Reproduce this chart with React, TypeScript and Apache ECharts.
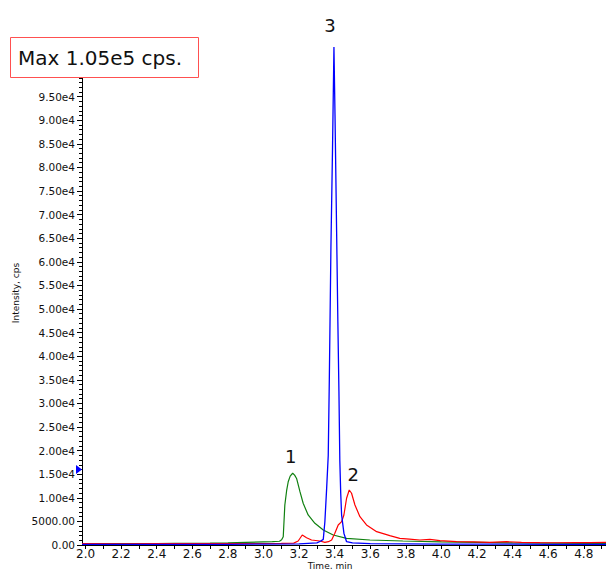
import React, { useEffect, useRef } from "react";
import * as echarts from "echarts";

// ---- data ----
const greenTimes = [1.98, 2.1, 2.2, 2.3, 2.4, 2.5, 2.6, 2.7, 2.8, 2.9, 3.0, 3.05, 3.09, 3.102, 3.111, 3.12, 3.13, 3.139, 3.15, 3.164, 3.175, 3.186, 3.205, 3.223, 3.251, 3.289, 3.336, 3.392, 3.467, 3.598, 3.783, 4.0, 4.2, 4.4, 4.6, 4.8, 4.925];
const greenValues = [250, 300, 280, 320, 300, 330, 350, 380, 450, 550, 650, 700, 800, 1100, 1760, 8480, 11500, 13400, 14600, 15200, 14800, 14100, 11300, 8840, 6360, 4600, 3180, 2120, 1420, 1060, 850, 650, 550, 450, 400, 350, 330];

const redTimes = [1.98, 2.2, 2.4, 2.6, 2.8, 3.0, 3.1, 3.17, 3.195, 3.218, 3.242, 3.27, 3.317, 3.345, 3.365, 3.383, 3.401, 3.42, 3.439, 3.452, 3.467, 3.482, 3.495, 3.514, 3.542, 3.579, 3.636, 3.71, 3.766, 3.82, 3.879, 3.935, 3.991, 4.085, 4.18, 4.272, 4.366, 4.45, 4.553, 4.65, 4.75, 4.834, 4.925];
const redValues = [300, 250, 300, 280, 300, 320, 350, 400, 850, 2120, 1550, 1060, 850, 570, 700, 1060, 2480, 4240, 4940, 6360, 9900, 11650, 10960, 8480, 6000, 4240, 2820, 2000, 1420, 1250, 1060, 1200, 910, 700, 650, 570, 700, 550, 500, 480, 520, 500, 550];

const blueTimes = [1.98, 2.2, 2.4, 2.6, 2.8, 3.0, 3.2, 3.25, 3.3, 3.32, 3.336, 3.345, 3.355, 3.364, 3.37, 3.379, 3.388, 3.396, 3.402, 3.411, 3.418, 3.424, 3.429, 3.434, 3.439, 3.452, 3.467, 3.5, 3.6, 3.8, 4.0, 4.2, 4.4, 4.6, 4.8, 4.925];
const blueValues = [150, 120, 150, 130, 150, 180, 250, 350, 450, 800, 1200, 4940, 12000, 19000, 35000, 63000, 84000, 105500, 91000, 66400, 47300, 32600, 17900, 11000, 6400, 2500, 700, 450, 300, 250, 200, 180, 170, 150, 150, 140];

const xLabelValues = [2.0, 2.2, 2.4, 2.6, 2.8, 3.0, 3.2, 3.4, 3.6, 3.8, 4.0, 4.2, 4.4, 4.6, 4.8];
const xTickValues = [2.0, 2.1, 2.2, 2.3, 2.4, 2.5, 2.6, 2.7, 2.8, 2.9, 3.0, 3.1, 3.2, 3.3, 3.4, 3.5, 3.6, 3.7, 3.8, 3.9, 4.0, 4.1, 4.2, 4.3, 4.4, 4.5, 4.6, 4.7, 4.8, 4.9];

const peakLabels = ["1", "2", "3"];
const peakTimes = [3.164, 3.482, 3.396];
const peakValues = [15200, 11650, 105500];
const markerValue = 16000;

const FONT = "DejaVu Sans";

const zip = (t: number[], v: number[]) => t.map((x, i) => [x, v[i]]);

const peakMark = (i: number, dx: number, dist: number) => ({
  coord: [peakTimes[i], peakValues[i]],
  symbol: "circle",
  symbolSize: 1,
  itemStyle: { color: "rgba(0,0,0,0)" },
  label: {
    show: true,
    formatter: peakLabels[i],
    position: "top",
    distance: dist,
    offset: [dx, 0],
    fontSize: 18,
    fontFamily: FONT,
    color: "#111",
  },
});

export default function App() {
  const ref = useRef<HTMLDivElement>(null);
  useEffect(() => {
    if (!ref.current) return;
    const chart = echarts.init(ref.current, undefined, { renderer: "svg" });
    const yFmt = (v: number) => {
      if (v > 95000) return "";
      if (v === 0) return "0.00";
      if (v < 10000) return v.toFixed(2);
      return (v / 10000).toFixed(2) + "e4";
    };
    chart.setOption({
      animation: false,
      grid: { left: 82, top: 40, right: 0, bottom: 24 },
      xAxis: {
        type: "value",
        min: 1.98,
        max: 4.925,
        axisLine: { show: true, lineStyle: { color: "#000", width: 1 } },
        axisTick: { show: true, customValues: xTickValues, length: 4, lineStyle: { color: "#000" } },
        axisLabel: {
          customValues: xLabelValues,
          formatter: (v: number) => v.toFixed(1),
          fontFamily: FONT,
          fontSize: 12,
          color: "#111",
          margin: 3,
        },
        splitLine: { show: false },
      },
      yAxis: {
        type: "value",
        min: 0,
        max: 107000,
        interval: 5000,
        axisLine: { show: true, lineStyle: { color: "#000", width: 1 } },
        axisTick: { show: true, length: 5, lineStyle: { color: "#000" } },
        minorTick: { show: true, splitNumber: 5, length: 3, lineStyle: { color: "#000" } },
        axisLabel: { formatter: yFmt, fontFamily: FONT, fontSize: 10.5, color: "#111", margin: 7 },
        splitLine: { show: false },
      },
      series: [
        {
          type: "line",
          data: zip(greenTimes, greenValues),
          showSymbol: false,
          symbol: "none",
          lineStyle: { color: "#108010", width: 1.2 },
          itemStyle: { color: "#108010" },
          markPoint: { data: [peakMark(0, -2, 7)] },
        },
        {
          type: "line",
          data: zip(redTimes, redValues),
          showSymbol: false,
          symbol: "none",
          lineStyle: { color: "#ff0000", width: 1.2 },
          itemStyle: { color: "#ff0000" },
          markPoint: { data: [peakMark(1, 4, 6)] },
        },
        {
          type: "line",
          data: zip(blueTimes, blueValues),
          showSymbol: false,
          symbol: "none",
          lineStyle: { color: "#0000ff", width: 1.3 },
          itemStyle: { color: "#0000ff" },
          markPoint: {
            data: [
              peakMark(2, -4, 12),
              {
                coord: [1.98, markerValue],
                symbol: "triangle",
                symbolSize: [9, 6],
                symbolRotate: -90,
                symbolOffset: [-3, 0],
                itemStyle: { color: "#0000ff" },
                label: { show: false },
              },
            ],
          },
        },
      ],
      graphic: [
        {
          type: "rect",
          z: 100,
          zlevel: 1,
          shape: { x: 10.5, y: 37.5, width: 188, height: 40 },
          style: { fill: "#fff", stroke: "#ff5050", lineWidth: 1 },
        },
        {
          type: "text",
          z: 101,
          zlevel: 1,
          x: 18,
          y: 58,
          style: {
            text: "Max 1.05e5 cps.",
            fontSize: 20,
            fontFamily: FONT,
            fill: "#111",
            verticalAlign: "middle",
            align: "left",
          },
        },
        {
          type: "text",
          x: 16,
          y: 293,
          rotation: Math.PI / 2,
          style: {
            text: "Intensity, cps",
            fontSize: 9,
            fontFamily: FONT,
            fill: "#111",
            align: "center",
            verticalAlign: "middle",
          },
        },
        {
          type: "text",
          x: 330,
          y: 561,
          style: {
            text: "Time, min",
            fontSize: 9,
            fontFamily: FONT,
            fill: "#111",
            align: "center",
            verticalAlign: "top",
          },
        },
      ],
    });
    return () => chart.dispose();
  }, []);
  return (
    <div
      ref={ref}
      style={{ position: "fixed", left: 0, top: 0, width: 606, height: 569, background: "#fff" }}
    />
  );
}
